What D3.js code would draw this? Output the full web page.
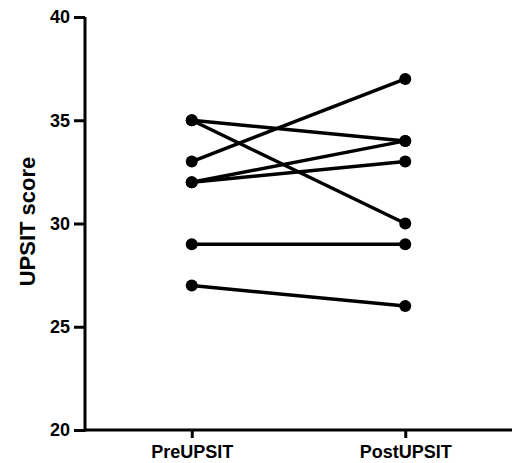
<!DOCTYPE html>
<html><head><meta charset="utf-8">
<script src="https://cdn.jsdelivr.net/npm/d3@7"></script>
<style>body{margin:0;background:#fff}svg{display:block}text{font-family:"Liberation Sans",Arial,sans-serif;font-weight:bold}</style>
</head><body><svg id="c" width="512" height="463"></svg>
<script>
const categories = ["PreUPSIT", "PostUPSIT"];
const preValues  = [35, 35, 33, 32, 32, 29, 27];
const postValues = [34, 30, 37, 34, 33, 29, 26];
const yTicks = [20, 25, 30, 35, 40];

const svg = d3.select("#c");
const x = d3.scalePoint().domain(categories).range([85, 512]).padding(0.5);
const y = d3.scaleLinear().domain([20, 40]).range([430, 17]);

const subjects = preValues.map((v, i) => [
  {cat: categories[0], val: v},
  {cat: categories[1], val: postValues[i]}
]);
const line = d3.line().x(d => x(d.cat)).y(d => y(d.val));

svg.append("g").selectAll("path").data(subjects).join("path")
  .attr("d", line).attr("fill", "none").attr("stroke", "#000").attr("stroke-width", 3.5);
svg.append("g").selectAll("circle").data(subjects.flat()).join("circle")
  .attr("cx", d => x(d.cat)).attr("cy", d => y(d.val)).attr("r", 6).attr("fill", "#000");

const yAxis = svg.append("g").attr("transform", "translate(85,0)")
  .call(d3.axisLeft(y).tickValues(yTicks).tickSize(11).tickPadding(4));
const xAxis = svg.append("g").attr("transform", "translate(0,430)")
  .call(d3.axisBottom(x).tickSize(8).tickPadding(7));
[yAxis, xAxis].forEach(g => {
  g.select(".domain").attr("stroke", "#000").attr("stroke-width", 3);
  g.selectAll(".tick line").attr("stroke", "#000").attr("stroke-width", 3);
  g.selectAll("text").attr("fill", "#000").style("font-size", "18px").style("font-family", '"Liberation Sans",Arial,sans-serif').style("font-weight", "bold");
});
yAxis.select(".domain").attr("d", "M0,431.5V17");
xAxis.select(".domain").attr("d", "M85,0H512");

svg.append("text").attr("transform", "translate(35,221.5) rotate(-90)")
  .attr("text-anchor", "middle").style("font-size", "22px").text("UPSIT score");
</script></body></html>
